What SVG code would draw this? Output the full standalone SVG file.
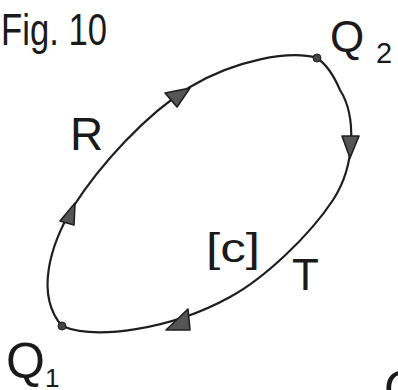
<svg xmlns="http://www.w3.org/2000/svg" width="398" height="390" viewBox="0 0 398 390">
<style>
.lbl{font-family:"Liberation Sans","DejaVu Sans",sans-serif;fill:#1a1a1a;}
.curve{fill:none;stroke:#1e1e1e;stroke-width:2.2;stroke-linecap:round;}
.arr{fill:#555;stroke:#1e1e1e;stroke-width:1.6;stroke-linejoin:round;}
.dot{fill:#444;stroke:#1e1e1e;stroke-width:1;}
</style>
<rect width="398" height="390" fill="#ffffff"/>
<g id="title"><text class="lbl" x="1" y="45" font-size="44" textLength="106" lengthAdjust="spacingAndGlyphs">Fig. 10</text></g>
<g id="connectors">
<path class="curve" d="M62,326 C95,340 170,330 230,297 C265,278 310,235 333,200 C356,165 356,115 340,90 C334,76 326,64 317,58 C290,50 235,60 190,87 C145,115 100,165 73,207 C50,245 35,295 62,326"/>
<polygon class="arr" points="75,203 60,221 74,225"/>
<polygon class="arr" points="190,88 165,93 177,107"/>
<polygon class="arr" points="342,136 359,136 350,158"/>
<polygon class="arr" points="166,330 188,309 190,330"/>
</g>
<g id="Q1"><circle class="dot" cx="62" cy="326" r="4"/><text class="lbl" x="6" y="378" font-size="50">Q</text><text class="lbl" x="45" y="387" font-size="26">1</text></g>
<g id="Q2"><circle class="dot" cx="317" cy="58" r="4"/><text class="lbl" x="330" y="52" font-size="44">Q</text><text class="lbl" x="376" y="63" font-size="29">2</text></g>
<g id="R"><text class="lbl" x="70" y="150" font-size="46">R</text></g>
<g id="C"><text class="lbl" x="206" y="262" font-size="40" textLength="54" lengthAdjust="spacingAndGlyphs">[c]</text></g>
<g id="T"><text class="lbl" x="292" y="290" font-size="44">T</text></g>
<g id="Q3"><text class="lbl" x="384" y="406" font-size="50">Q</text></g>
</svg>
